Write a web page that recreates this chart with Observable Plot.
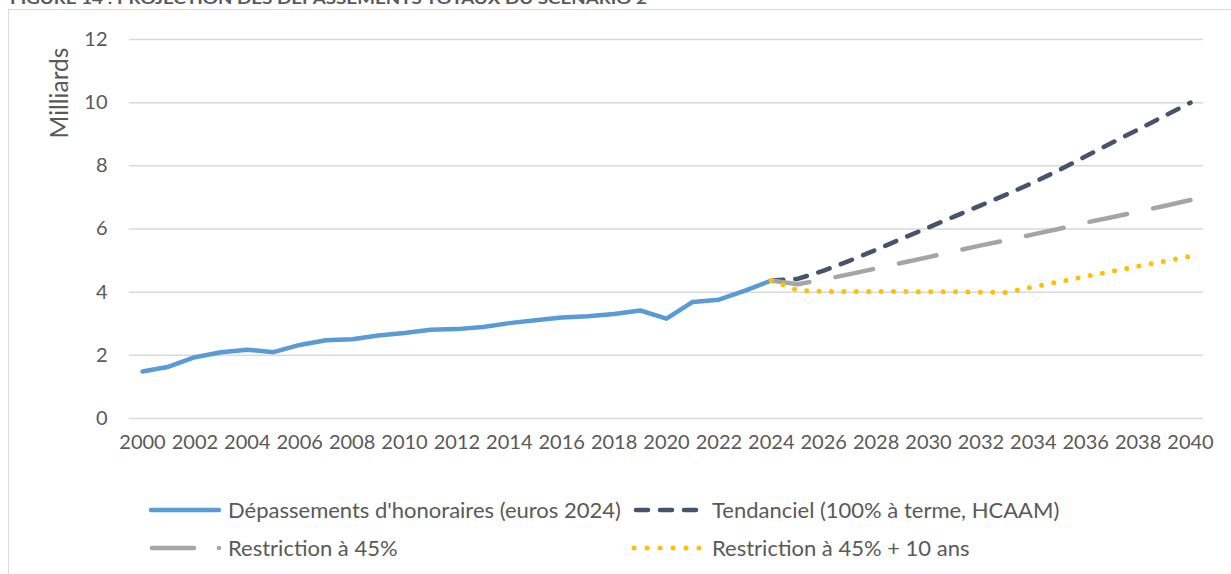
<!DOCTYPE html>
<html><head><meta charset="utf-8">
<script src="https://cdn.jsdelivr.net/npm/d3@7"></script>
<script src="https://cdn.jsdelivr.net/npm/@observablehq/plot@0.6"></script>
<style>
html,body{margin:0;padding:0;background:#fff;}
#page{position:relative;width:1231px;height:574px;overflow:hidden;font-family:Lato,sans-serif;color:#595959;}
#chart{position:absolute;left:0;top:0;}
#frame{position:absolute;left:8.25px;top:9.25px;width:1300px;height:700px;border-left:1.5px solid #D9D9D9;border-top:1.5px solid #D9D9D9;pointer-events:none;}
#overlay{position:absolute;left:0;top:0;pointer-events:none;}
.ylab{position:absolute;left:59px;top:93px;transform:translate(-50%,-50%) rotate(-90deg);font-size:24.5px;white-space:nowrap;line-height:1;}
.legtext{position:absolute;font-size:22px;white-space:nowrap;line-height:26px;height:26px;}
</style></head>
<body><div id="page">
<div id="chart"></div>
<div id="frame"></div>
<div class="ylab">Milliards</div>
<svg id="overlay" width="1231" height="574"></svg>
</div>
<script>
// ---- data ----
const histYears = [2000,2001,2002,2003,2004,2005,2006,2007,2008,2009,2010,2011,2012,2013,2014,2015,2016,2017,2018,2019,2020,2021,2022,2023,2024];
const depassements = [1.49,1.64,1.94,2.10,2.18,2.10,2.33,2.48,2.51,2.63,2.71,2.81,2.83,2.90,3.02,3.11,3.20,3.24,3.31,3.42,3.16,3.69,3.76,4.05,4.37];
const projYears = [2024,2025,2026,2027,2028,2029,2030,2031,2032,2033,2034,2035,2036,2037,2038,2039,2040];
const tendanciel = [4.37,4.42,4.68,5.00,5.34,5.70,6.05,6.40,6.75,7.10,7.47,7.87,8.30,8.73,9.15,9.58,10.00];
const restriction45 = [4.37,4.25,4.40,4.57,4.75,4.93,5.11,5.30,5.48,5.65,5.83,6.01,6.20,6.37,6.55,6.73,6.92];
const restriction45plus10 = [4.37,4.06,4.02,4.02,4.02,4.02,4.01,4.01,4.00,3.99,4.17,4.33,4.50,4.66,4.82,4.98,5.14];
const xTicks = [2000,2002,2004,2006,2008,2010,2012,2014,2016,2018,2020,2022,2024,2026,2028,2030,2032,2034,2036,2038,2040];
const yTicks = [0,2,4,6,8,10,12];
const seriesNames = ["Dépassements d'honoraires (euros 2024)","Tendanciel (100% à terme, HCAAM)","Restriction à 45%","Restriction à 45% + 10 ans"];
const titleText = "FIGURE 14 : PROJECTION DES DÉPASSEMENTS TOTAUX DU SCÉNARIO 2";
const yLabel = "Milliards";

// ---- styles ----
const colors = ["#5B9BD5","#44546A","#A5A5A5","#FFC000"];

const hist = histYears.map((year,i)=>({year, value: depassements[i]}));
const proj = arr => projYears.map((year,i)=>({year, value: arr[i]}));

const chart = Plot.plot({
  width: 1231, height: 574,
  marginLeft: 142, marginRight: 41, marginTop: 39, marginBottom: 156,
  x: {domain: [2000, 2040]},
  y: {domain: [0, 12]},
  style: {fontFamily: "Lato, sans-serif", fontSize: "20px", color: "#595959", background: "transparent", overflow: "visible"},
  marks: [
    Plot.ruleY(yTicks, {x1: 1999.5, x2: 2040.5, stroke: "#D9D9D9", strokeWidth: 1.5}),
    Plot.axisX({ticks: xTicks, tickSize: 0, tickPadding: 16, tickFormat: d => String(d), label: null, fontSize: 20}),
    Plot.axisY({ticks: yTicks, tickSize: 0, tickPadding: 35, label: null, fontSize: 20}),
    Plot.line(hist, {x: "year", y: "value", stroke: colors[0], strokeWidth: 4.5, strokeLinecap: "round", strokeLinejoin: "round"}),
    Plot.line(proj(tendanciel), {x: "year", y: "value", stroke: colors[1], strokeWidth: 4.5, strokeDasharray: "12,12", strokeLinecap: "round", strokeLinejoin: "round"}),
    Plot.line(proj(restriction45), {x: "year", y: "value", stroke: colors[2], strokeWidth: 4.5, strokeDasharray: "38.5,26.5", strokeLinecap: "round", strokeLinejoin: "round"}),
    Plot.line(proj(restriction45plus10), {x: "year", y: "value", stroke: colors[3], strokeWidth: 5, strokeDasharray: "0,12.4", strokeLinecap: "round", strokeLinejoin: "round"})
  ]
});
document.getElementById("chart").appendChild(chart);
document.querySelector(".ylab").textContent = yLabel;

// ---- title & legend overlay ----
const ov = d3.select("#overlay");
ov.append("text").attr("x", 10).attr("y", 4)
  .attr("textLength", 637).attr("lengthAdjust", "spacingAndGlyphs")
  .attr("font-family", "Lato, sans-serif").attr("font-weight", "bold").attr("font-size", 15)
  .attr("fill", "#595959").text(titleText);

const rows = [510, 548];
const legend = [
  {i: 0, row: 0, sx1: 151, sx2: 219, tx: 228, dash: null, w: 4.5},
  {i: 1, row: 0, sx1: 636, sx2: 700, tx: 712, dash: "12,12", w: 4.5},
  {i: 2, row: 1, sx1: 152, sx2: 194, tx: 228, dash: null, w: 4.5, dot: 219},
  {i: 3, row: 1, sx1: 634, sx2: 700, tx: 712, dash: "0,13", w: 5}
];
legend.forEach(l => {
  const y = rows[l.row];
  const ln = ov.append("line").attr("x1", l.sx1).attr("x2", l.sx2).attr("y1", y).attr("y2", y)
    .attr("stroke", colors[l.i]).attr("stroke-width", l.w).attr("stroke-linecap", "round");
  if (l.dash) ln.attr("stroke-dasharray", l.dash);
  if (l.dot) ov.append("circle").attr("cx", l.dot).attr("cy", y).attr("r", 2.25).attr("fill", colors[l.i]);
  const d = document.createElement("div");
  d.className = "legtext";
  d.style.left = l.tx + "px";
  d.style.top = (y - 13) + "px";
  d.textContent = seriesNames[l.i];
  document.getElementById("page").appendChild(d);
});
</script>
</body></html>
